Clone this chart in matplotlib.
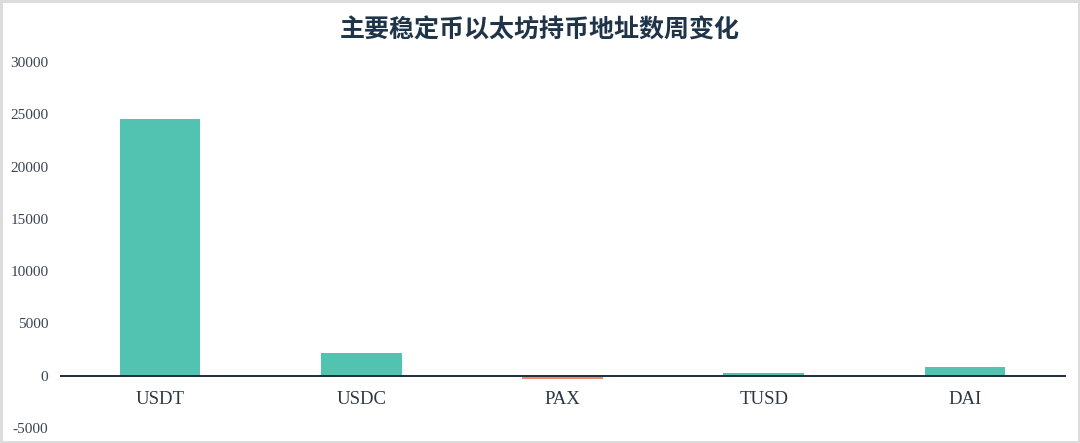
import matplotlib.pyplot as plt

# data
coins = ['USDT', 'USDC', 'PAX', 'TUSD', 'DAI']
weekly_change = [24550, 2200, -300, 300, 870]
y_ticks = [-5000, 0, 5000, 10000, 15000, 20000, 25000, 30000]

plt.rcParams['font.family'] = ['Liberation Serif', 'DejaVu Serif']

fig = plt.figure(figsize=(10.8, 4.43), dpi=100)
fig.patch.set_edgecolor('#dcdcdc')
fig.patch.set_linewidth(2.5)

ax = fig.add_axes([0.0551, 0.0339, 0.9315, 0.8261])

colors = ['#53c3b1' if v >= 0 else '#f4876c' for v in weekly_change]
x = range(len(coins))
ax.bar(x, weekly_change, width=0.4, color=colors, zorder=2)
ax.axhline(0, color='#1f2d3a', linewidth=1.4, zorder=3)

ax.set_xlim(-0.5, len(coins) - 0.5)
ax.set_ylim(-5000, 30000)
ax.set_yticks(y_ticks)
ax.set_yticklabels([str(t) for t in y_ticks])
ax.tick_params(axis='y', length=0, pad=8, labelsize=11, labelcolor='#3a4450')

# category labels sit under the zero line
ax.set_xticks([])
for i, name in enumerate(coins):
    ax.text(i, -2250, name, ha='center', va='center', fontsize=13.5, color='#2b3644')

for s in ax.spines.values():
    s.set_visible(False)

fig.text(0.5, 0.932, '主要稳定币以太坊持币地址数周变化', ha='center', va='center',
         fontsize=18, fontweight='bold', color='#1f3448',
         family=['Noto Sans CJK SC', 'DejaVu Sans'])

fig.savefig('out.png', dpi=100)
